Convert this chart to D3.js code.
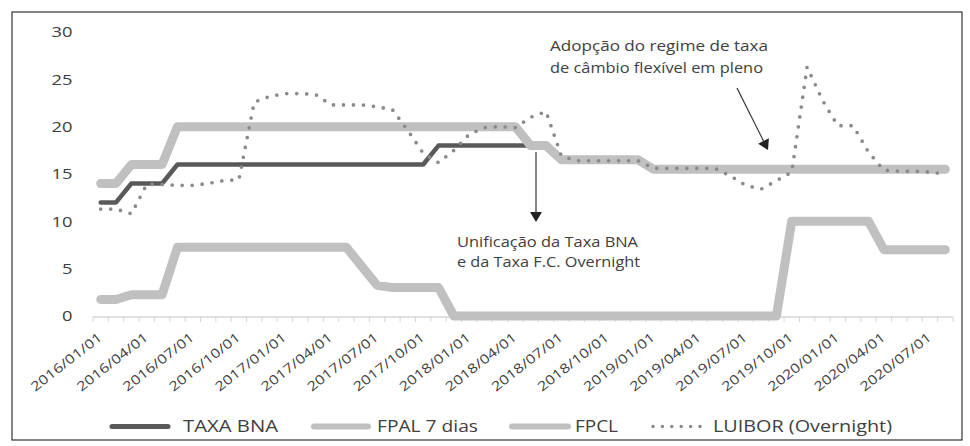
<!DOCTYPE html>
<html><head><meta charset="utf-8">
<script src="https://cdn.jsdelivr.net/npm/d3@7"></script>
<style>html,body{margin:0;padding:0;background:#fff;} svg{display:block;font-family:"Open Sans",sans-serif;}</style>
</head><body><svg id="c" width="970" height="446"></svg>
<script>
const categories = [
 "2016/01/01","2016/02/01","2016/03/01","2016/04/01","2016/05/01","2016/06/01","2016/07/01","2016/08/01","2016/09/01","2016/10/01","2016/11/01","2016/12/01",
 "2017/01/01","2017/02/01","2017/03/01","2017/04/01","2017/05/01","2017/06/01","2017/07/01","2017/08/01","2017/09/01","2017/10/01","2017/11/01","2017/12/01",
 "2018/01/01","2018/02/01","2018/03/01","2018/04/01","2018/05/01","2018/06/01","2018/07/01","2018/08/01","2018/09/01","2018/10/01","2018/11/01","2018/12/01",
 "2019/01/01","2019/02/01","2019/03/01","2019/04/01","2019/05/01","2019/06/01","2019/07/01","2019/08/01","2019/09/01","2019/10/01","2019/11/01","2019/12/01",
 "2020/01/01","2020/02/01","2020/03/01","2020/04/01","2020/05/01","2020/06/01","2020/07/01","2020/08/01"];
const taxaBNA = [12,12,14,14,14,16,16,16,16,16,16,16, 16,16,16,16,16,16,16,16,16,16,18,18, 18,18,18,18,18,18,16.5,16.5,16.5,16.5,16.5,16.5, 15.5,15.5,15.5,15.5,15.5,15.5,15.5,15.5,15.5,15.5,15.5,15.5, 15.5,15.5,15.5,15.5,15.5,15.5,15.5,15.5];
const fpal7 = [14,14,16,16,16,20,20,20,20,20,20,20, 20,20,20,20,20,20,20,20,20,20,20,20, 20,20,20,20,18,18,16.5,16.5,16.5,16.5,16.5,16.5, 15.5,15.5,15.5,15.5,15.5,15.5,15.5,15.5,15.5,15.5,15.5,15.5, 15.5,15.5,15.5,15.5,15.5,15.5,15.5,15.5];
const fpcl = [1.75,1.75,2.25,2.25,2.25,7.25,7.25,7.25,7.25,7.25,7.25,7.25, 7.25,7.25,7.25,7.25,7.25,5.25,3.25,3,3,3,3,0, 0,0,0,0,0,0,0,0,0,0,0,0, 0,0,0,0,0,0,0,0,0,10,10,10, 10,10,10,7,7,7,7,7];
const luibor = [11.3,11.3,10.8,13.9,13.9,13.8,13.8,14.0,14.3,14.4,22.6,23.2, 23.5,23.5,23.4,22.3,22.3,22.3,22.1,21.8,19.6,17.2,16.2,17.5, 19.2,19.9,20.0,19.9,21.0,21.6,16.9,16.4,16.4,16.4,16.4,16.4, 15.6,15.6,15.6,15.6,15.6,14.8,13.8,13.4,14.3,15.2,26.3,22.8, 20.1,20.1,17.3,15.4,15.3,15.3,15.2,15.0];
const yTicks = [0,5,10,15,20,25,30];
const seriesNames = ["TAXA BNA","FPAL 7 dias","FPCL","LUIBOR (Overnight)"];
const annotation1 = ["Adopção do regime de taxa","de câmbio flexível em pleno"];
const annotation2 = ["Unificação da Taxa BNA","e da Taxa F.C. Overnight"];

const svg = d3.select("#c");
const textColor = "#404040";
const light = "#c0c0c0", dark = "#595959", dotc = "#8a8a8a";

// border
svg.append("rect").attr("x",12).attr("y",12).attr("width",950).attr("height",428)
  .attr("fill","none").attr("stroke","#333").attr("stroke-width",1.2);

const x = d3.scaleBand().domain(categories).range([93,953]).padding(0);
const y = d3.scaleLinear().domain([0,30]).range([316,32]);
const cx = i => x(categories[i]) + x.bandwidth()/2;

// y labels
const yl = svg.append("g");
yTicks.forEach(t => {
  const s = String(t);
  const w = s.length * 10.5;
  yl.append("text").attr("x",72.5 - w).attr("y",y(t)).attr("dy","0.36em")
    .attr("font-size",15).attr("fill",textColor)
    .attr("textLength",w).attr("lengthAdjust","spacingAndGlyphs").text(s);
});

// x axis
const xa = svg.append("g");
xa.append("line").attr("x1",93).attr("x2",953).attr("y1",317).attr("y2",317)
  .attr("stroke","#d6d6d6").attr("stroke-width",1.5);
d3.range(categories.length+1).forEach(k => {
  const px = 93 + k * x.bandwidth();
  xa.append("line").attr("x1",px).attr("x2",px).attr("y1",317).attr("y2",322)
    .attr("stroke","#d6d6d6").attr("stroke-width",1);
});
categories.forEach((c,i) => {
  if (i % 3 !== 0) return;
  xa.append("text").attr("transform",`translate(${cx(i)+2.3},339) rotate(-38)`)
    .attr("text-anchor","end").attr("font-size",13).attr("fill",textColor)
    .attr("textLength",86).attr("lengthAdjust","spacingAndGlyphs").text(c);
});

// lines
const line = d3.line().x((d,i)=>cx(i)).y(d=>y(d));
const plot = svg.append("g").attr("fill","none").attr("stroke-linejoin","round").attr("stroke-linecap","round");
plot.append("path").datum(taxaBNA).attr("d",line).attr("stroke",dark).attr("stroke-width",4.5);
plot.append("path").datum(fpal7).attr("d",line).attr("stroke",light).attr("stroke-width",9);
plot.append("path").datum(fpcl).attr("d",line).attr("stroke",light).attr("stroke-width",9);
plot.append("path").datum(luibor).attr("d",line).attr("stroke",dotc).attr("stroke-width",3.7)
  .attr("stroke-dasharray","0 10");

// annotations
function txt(str, x0, y0, w, fs) {
  svg.append("text").attr("x",x0).attr("y",y0).attr("font-size",fs).attr("fill",textColor)
    .attr("textLength",w).attr("lengthAdjust","spacingAndGlyphs").text(str);
}
txt(annotation1[0], 550, 50.5, 218, 14.5);
txt(annotation1[1], 550, 73.3, 213, 14.5);
txt(annotation2[0], 457, 246.5, 181, 14.5);
txt(annotation2[1], 457, 267.3, 183, 14.5);

function arrow(x1,y1,x2,y2){
  const ang = Math.atan2(y2-y1,x2-x1);
  const L = 10, W = 6;
  const bx = x2 - L*Math.cos(ang), by = y2 - L*Math.sin(ang);
  svg.append("line").attr("x1",x1).attr("y1",y1).attr("x2",bx).attr("y2",by)
    .attr("stroke","#333").attr("stroke-width",1.2);
  const px = -Math.sin(ang)*W, py = Math.cos(ang)*W;
  svg.append("path").attr("d",`M${x2},${y2}L${bx+px},${by+py}L${bx-px},${by-py}Z`).attr("fill","#222");
}
arrow(737,88,768,150);
arrow(536,152,536,222);

// legend
const lg = svg.append("g");
const ly = 426.5;
lg.append("line").attr("x1",112).attr("x2",168).attr("y1",ly).attr("y2",ly).attr("stroke",dark).attr("stroke-width",5).attr("stroke-linecap","round");
lg.append("line").attr("x1",314).attr("x2",368).attr("y1",ly).attr("y2",ly).attr("stroke",light).attr("stroke-width",6).attr("stroke-linecap","round");
lg.append("line").attr("x1",512).attr("x2",568).attr("y1",ly).attr("y2",ly).attr("stroke",light).attr("stroke-width",6).attr("stroke-linecap","round");
lg.append("line").attr("x1",653).attr("x2",709).attr("y1",ly).attr("y2",ly).attr("stroke",dotc).attr("stroke-width",3.5).attr("stroke-linecap","round").attr("stroke-dasharray","0 9.4");
const legX = [[183,95],[377,101],[575,43],[713,179]];
seriesNames.forEach((n,i) => txt(n, legX[i][0], 431.7, legX[i][1], 16));
</script></body></html>
